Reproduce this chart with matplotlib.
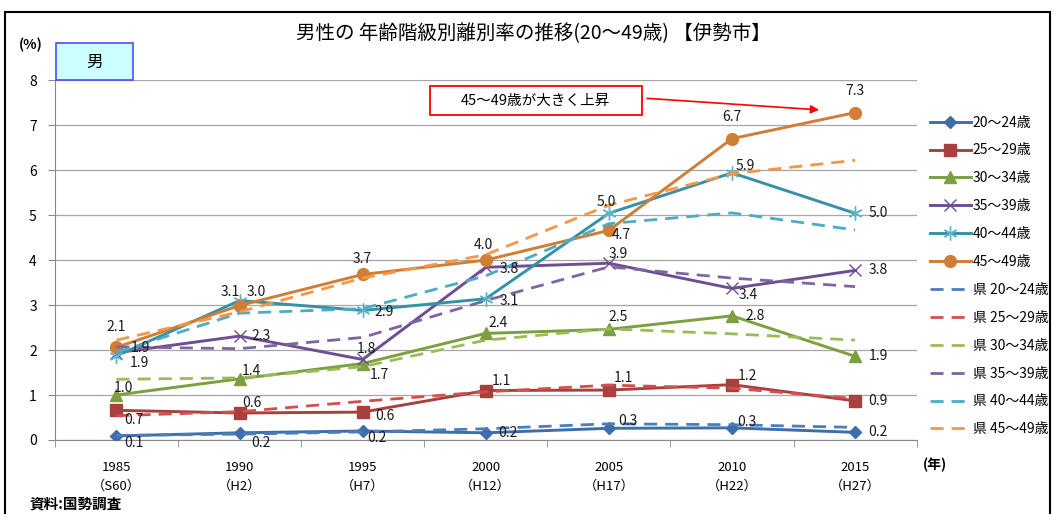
import matplotlib
matplotlib.use('Agg')
import matplotlib.pyplot as plt
from matplotlib.patches import Rectangle

plt.rcParams['font.family'] = ['Noto Sans CJK JP', 'DejaVu Sans']

# 国勢調査 年・元号
years = ['1985', '1990', '1995', '2000', '2005', '2010', '2015']
eras = ['S60', 'H2', 'H7', 'H12', 'H17', 'H22', 'H27']
age_groups = ['20～24歳', '25～29歳', '30～34歳', '35～39歳', '40～44歳', '45～49歳']

# 伊勢市 (%)
ise_20_24 = [0.09, 0.16, 0.20, 0.16, 0.26, 0.27, 0.17]
ise_25_29 = [0.66, 0.60, 0.62, 1.10, 1.11, 1.23, 0.87]
ise_30_34 = [1.00, 1.36, 1.70, 2.37, 2.46, 2.76, 1.86]
ise_35_39 = [1.94, 2.31, 1.79, 3.84, 3.93, 3.37, 3.77]
ise_40_44 = [1.87, 3.10, 2.88, 3.14, 5.04, 5.94, 5.04]
ise_45_49 = [2.06, 2.99, 3.68, 4.00, 4.66, 6.70, 7.28]

# 三重県 (%)
pref_20_24 = [0.10, 0.13, 0.18, 0.25, 0.36, 0.34, 0.28]
pref_25_29 = [0.54, 0.63, 0.86, 1.07, 1.22, 1.15, 0.92]
pref_30_34 = [1.35, 1.38, 1.63, 2.22, 2.47, 2.36, 2.22]
pref_35_39 = [2.07, 2.03, 2.28, 3.10, 3.85, 3.60, 3.41]
pref_40_44 = [1.95, 2.82, 2.92, 3.65, 4.81, 5.05, 4.67]
pref_45_49 = [2.22, 2.85, 3.60, 4.12, 5.22, 5.92, 6.22]

ise = [ise_20_24, ise_25_29, ise_30_34, ise_35_39, ise_40_44, ise_45_49]
pref = [pref_20_24, pref_25_29, pref_30_34, pref_35_39, pref_40_44, pref_45_49]

solid_colors = ['#3E6DAA', '#A8403D', '#7C9F3F', '#6E4E92', '#3592A6', '#D07D35']
dash_colors = ['#4A7EBB', '#D0504C', '#9BBB59', '#8064A2', '#4BACC6', '#F79646']
markers = [('D', 6), ('s', 8), ('^', 8.5), ('x', 8), ((6, 2, 0), 10), ('o', 8.5)]

# label offsets in pixels (dx, dy) per point
label_offsets = [
    [(17, -7), (21, -10), (14, -7), (22, 0), (19, 7), (15, 6), (23, 0)],
    [(17, -10), (12, 10), (22, -4), (16, 10), (15, 12), (15, 9), (23, 0)],
    [(7, 7), (12, 8), (17, -11), (12, 10), (9, 12), (23, 0), (23, 0)],
    [(24, 5), (22, 0), (4, 10), (23, -2), (9, 9), (16, -7), (23, 0)],
    [(23, -7), (-9, 9), (21, -2), (23, -2), (-3, 11), (13, 7), (23, 0)],
    [(0, 20), (17, 14), (0, 15), (-2, 15), (12, -5), (0, 22), (0, 22)],
]

fig = plt.figure(figsize=(10.56, 5.14), dpi=100)
ax = fig.add_axes([0.052, 0.144, 0.816, 0.70])
x = list(range(len(years)))

for i, vals in enumerate(ise):
    m, ms = markers[i]
    ax.plot(x, vals, color=solid_colors[i], lw=2.1, marker=m, ms=ms,
            mec=solid_colors[i] if i != 4 else '#5BB5CC', mfc=solid_colors[i],
            mew=1.0, label=age_groups[i], zorder=3)

for i, vals in enumerate(pref):
    ax.plot(x, vals, color=dash_colors[i], lw=2.0, dashes=(4.7, 2.9),
            label='県 ' + age_groups[i], zorder=4)

for i, vals in enumerate(ise):
    for xi, v in enumerate(vals):
        dx, dy = label_offsets[i][xi]
        ax.annotate(f'{v:.1f}', (xi, v), xytext=(dx, dy), textcoords='offset pixels',
                    ha='center', va='center', fontsize=10, color='#1A1A1A', zorder=6)

ax.set_xlim(-0.5, 6.5)
ax.set_ylim(0, 8)
ax.set_yticks(range(0, 9))
ax.set_xticks(x)
ax.set_xticklabels([f'{y}\n（{e}）' for y, e in zip(years, eras)], fontsize=9.5, linespacing=1.6)
ax.set_xticks([i - 0.5 for i in range(8)], minor=True)
ax.tick_params(axis='x', which='major', length=0, pad=15)
ax.tick_params(axis='x', which='minor', length=5, color='#888888', direction='out')
ax.tick_params(axis='y', length=5, color='#888888', labelsize=10, pad=8)
ax.grid(axis='y', color='#A6A6A6', lw=0.9)
ax.set_axisbelow(True)
for s in ('top', 'right'):
    ax.spines[s].set_visible(False)
ax.spines['left'].set_color('#888888')
ax.spines['bottom'].set_color('#888888')

fig.legend(loc='upper left', bbox_to_anchor=(0.875, 0.786), frameon=False, fontsize=10,
           handlelength=3.0, handletextpad=0.1, labelspacing=1.0, borderaxespad=0)

fig.text(0.505, 0.935, '男性の 年齢階級別離別率の推移(20～49歳) 【伊勢市】', ha='center', va='center',
         fontsize=14)
fig.text(0.029, 0.912, '(%)', ha='center', va='center', fontsize=10, fontweight='bold')
fig.text(0.885, 0.095, '(年)', ha='center', va='center', fontsize=10, fontweight='bold')
fig.text(0.028, 0.02, '資料:国勢調査', ha='left', va='center', fontsize=10.5, fontweight='bold')

# 「男」ラベル
fig.patches.append(Rectangle((56 / 1056, 1 - 80 / 514), 77 / 1056, 37 / 514, transform=fig.transFigure,
                             facecolor='#CCFFFF', edgecolor='#4D4DFF', lw=1.2))
fig.text(95 / 1056, 1 - 62 / 514, '男', ha='center', va='center', fontsize=12)

# 注記
ax.add_patch(Rectangle((0.435, 0.903), 0.246, 0.08, transform=ax.transAxes,
                       facecolor='white', edgecolor='#FF0000', lw=1.3, zorder=7, clip_on=False))
ax.text(0.558, 0.943, '45～49歳が大きく上昇', transform=ax.transAxes, ha='center', va='center',
        fontsize=10.5, zorder=8)
ax.annotate('', xy=(0.89, 0.917), xytext=(0.684, 0.95), xycoords='axes fraction',
            arrowprops=dict(arrowstyle='-|>', color='#FF0000', lw=1.2, mutation_scale=12))

# 外枠
fig.patches.append(Rectangle((5 / 1056, -0.01), 1045 / 1056, 1 - 12 / 514 + 0.01,
                             transform=fig.transFigure, fill=False, edgecolor='black', lw=1.5))

fig.savefig('out.png', dpi=100)
